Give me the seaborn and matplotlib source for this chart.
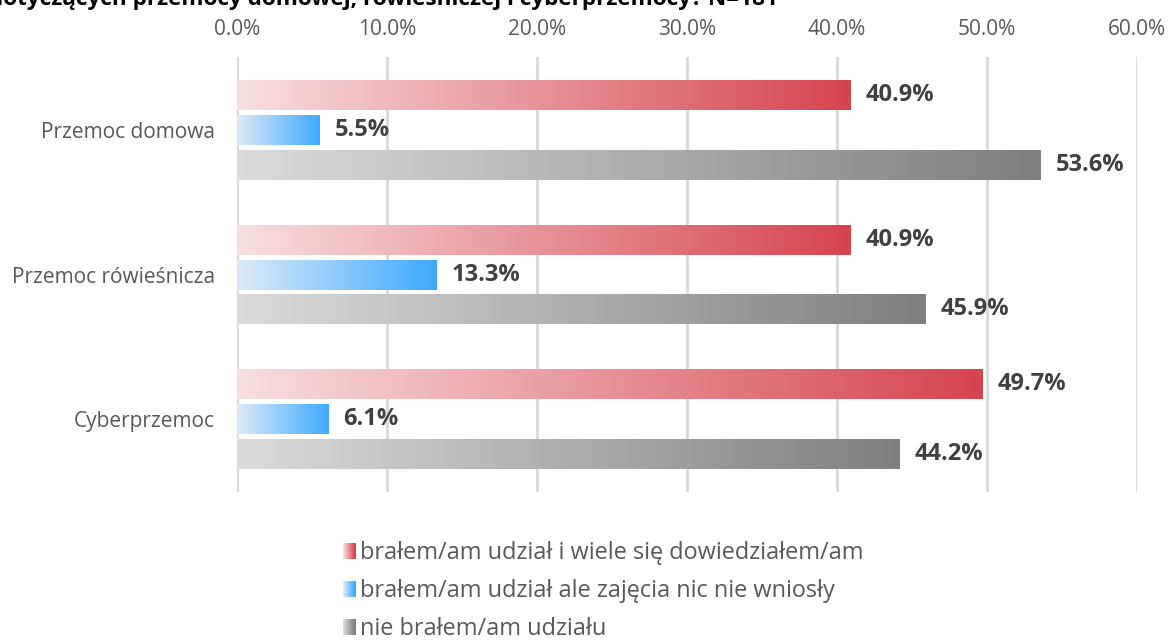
import numpy as np
import pandas as pd
import matplotlib
matplotlib.use('Agg')
import matplotlib.pyplot as plt
import seaborn as sns
from matplotlib.colors import LinearSegmentedColormap
from matplotlib.legend_handler import HandlerBase
from matplotlib.patches import Rectangle

categories = ['Przemoc domowa', 'Przemoc rówieśnicza', 'Cyberprzemoc']
series = ['brałem/am udział i wiele się dowiedziałem/am',
          'brałem/am udział ale zajęcia nic nie wniosły',
          'nie brałem/am udziału']
learned = [40.9, 40.9, 49.7]
nothing = [5.5, 13.3, 6.1]
not_taken = [53.6, 45.9, 44.2]
ticks = [0, 10, 20, 30, 40, 50, 60]
# title is clipped by the top edge in the original
title = 'dotyczących przemocy domowej, rówieśniczej i cyberprzemocy? N=181'

grads = {
    series[0]: ('#F8DFE0', '#D6444E'),
    series[1]: ('#DDEBF7', '#3DAAFF'),
    series[2]: ('#DBDBDB', '#7F7F7F'),
}

df = pd.DataFrame({
    'kategoria': categories * 3,
    'seria': [series[0]] * 3 + [series[1]] * 3 + [series[2]] * 3,
    'wartosc': learned + nothing + not_taken,
})

sns.set_theme(style='white')
plt.rcParams['font.family'] = ['Open Sans', 'DejaVu Sans']

fig = plt.figure(figsize=(11.7, 6.41), dpi=100)
ax = fig.add_axes([0.2026, 0.2325, 0.7692, 0.6785])

sns.barplot(data=df, x='wartosc', y='kategoria', hue='seria', order=categories,
            hue_order=series, orient='h', width=0.724, gap=0.143, ax=ax,
            legend=False, palette=['#D6444E', '#3DAAFF', '#7F7F7F'])

# gradient fill for every bar
for container, name in zip(ax.containers, series):
    cmap = LinearSegmentedColormap.from_list(name, grads[name])
    for bar, val in zip(container, container.datavalues):
        x0, y0 = bar.get_x(), bar.get_y()
        w, h = bar.get_width(), bar.get_height()
        bar.set_alpha(0)
        ax.imshow(np.linspace(0, 1, 256).reshape(1, -1), cmap=cmap,
                  extent=[x0, x0 + w, y0 + h, y0], aspect='auto',
                  interpolation='bilinear', zorder=3)
        ax.text(x0 + w + 1.0, y0 + h / 2, f'{val:.1f}%', va='center', ha='left',
                fontsize=17, fontweight='bold', color='#404040', zorder=4)

ax.set_xlim(0, 60)
ax.set_ylim(2.5, -0.5)
ax.set_xticks(ticks)
ax.set_xticklabels([f'{t:.1f}%' for t in ticks])
ax.xaxis.tick_top()
ax.tick_params(axis='x', length=0, pad=12, labelsize=15, labelcolor='#595959')
ax.tick_params(axis='y', length=0, pad=16, labelsize=15, labelcolor='#595959')
ax.set_xlabel('')
ax.set_ylabel('')
ax.grid(axis='x', color='#D9D9D9', linewidth=2, zorder=0)
ax.set_axisbelow(True)
for s in ax.spines.values():
    s.set_visible(False)

fig.text(-0.0094, 0.992, title, ha='left', va='baseline', fontsize=16.2,
         fontweight='bold', color='black')


class GradHandler(HandlerBase):
    def __init__(self, colors):
        super().__init__()
        self.colors = colors

    def create_artists(self, legend, orig_handle, xdescent, ydescent, width,
                       height, fontsize, trans):
        cmap = LinearSegmentedColormap.from_list('g', self.colors)
        n = 12
        size = height * 0.95
        x0 = -xdescent + width - size * 0.8
        arts = []
        for i in range(n):
            r = Rectangle((x0 + i * size * 0.8 / n, -ydescent), size * 0.8 / n + 0.3, size,
                          facecolor=cmap(i / (n - 1)), edgecolor='none', transform=trans)
            arts.append(r)
        return arts


handles = [Rectangle((0, 0), 1, 1) for _ in series]
fig.legend(handles, series, loc='center', bbox_to_anchor=(0.515, 0.078),
           ncol=1, frameon=False, fontsize=16.9, labelcolor='#595959',
           handlelength=0.6, handletextpad=0.2, labelspacing=0.6,
           handler_map={h: GradHandler(grads[s]) for h, s in zip(handles, series)})

fig.savefig('out.png', dpi=100)
